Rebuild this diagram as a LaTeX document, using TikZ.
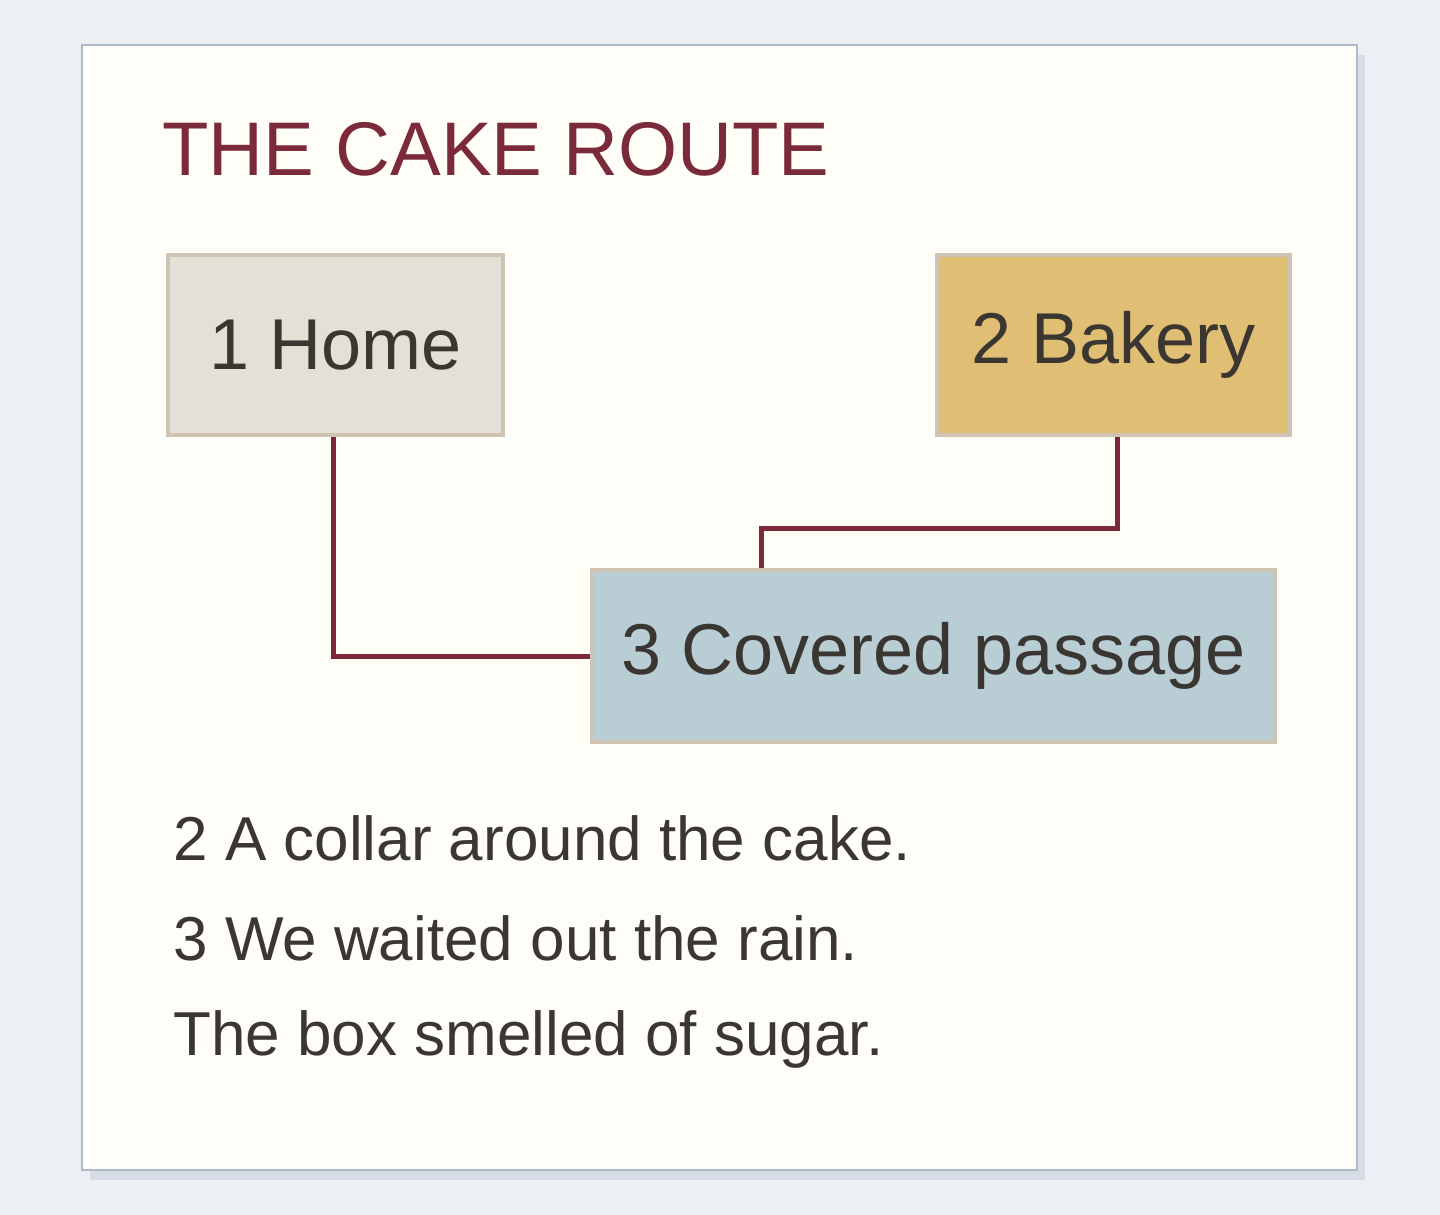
\documentclass[tikz,border=0pt]{standalone}
\usepackage{fontspec}
\setmainfont{Liberation Sans}
\usetikzlibrary{positioning}
\definecolor{pagebg}{HTML}{ECF0F5}
\definecolor{cardbg}{HTML}{FEFDF8}
\definecolor{cardline}{HTML}{AEB9C6}
\definecolor{shadowc}{HTML}{D5DCE5}
\definecolor{wine}{HTML}{7B2A3A}
\definecolor{ink}{HTML}{3A3632}
\definecolor{boxline}{HTML}{CFC3B3}
\definecolor{homefill}{HTML}{E4E0D6}
\definecolor{bakefill}{HTML}{E0BF74}
\definecolor{passfill}{HTML}{B9CDD4}
\tikzset{
  place/.style={draw=boxline, line width=2pt, text=ink, font=\fontsize{36}{40}\selectfont, inner sep=0pt},
  route/.style={draw=wine, line width=2.5pt},
  note/.style={anchor=base west, text=ink, font=\fontsize{31}{36}\selectfont, inner sep=0pt}
}
\begin{document}
\begin{tikzpicture}[x=0.5pt,y=-0.5pt]
        \fill[pagebg] (0,0) rectangle (1440,1215);
        \useasboundingbox (0,0) rectangle (1440,1215);

        % card
        \fill[shadowc] (90,55) rectangle (1365,1180);
        \draw[cardline, fill=cardbg, line width=1pt] (82,45) rectangle (1357,1170);

        \node[anchor=base west, text=wine, font=\fontsize{38}{42}\selectfont, inner sep=0pt] (title) at (162,175) {THE CAKE ROUTE};

        % stops
        \node[place, fill=homefill, minimum width=167.5pt, minimum height=90pt] (home) at (335.5,345) {1 Home};
        \node[place, fill=bakefill, minimum width=176.5pt, minimum height=90pt] (bakery) at (1113.5,345) {2 Bakery};
        \node[place, fill=passfill, minimum width=341.5pt, minimum height=86pt] (passage) at (933.5,656) {3 Covered passage};

        \coordinate (homeout) at (333,437);
        \coordinate (bakeout) at (1117,437);
        \coordinate (passin) at (761,568);

        % route
        \draw[route] (homeout) |- (passage.west);
        \draw[route] (bakeout) -- (1117,528) -| (passin);

        % notes
        \node[note] (n1) at (173,860) {2 A collar around the cake.};
        \node[note] (n2) at (173,960) {3 We waited out the rain.};
        \node[note] (n3) at (173,1055) {The box smelled of sugar.};
\end{tikzpicture}
\end{document}
